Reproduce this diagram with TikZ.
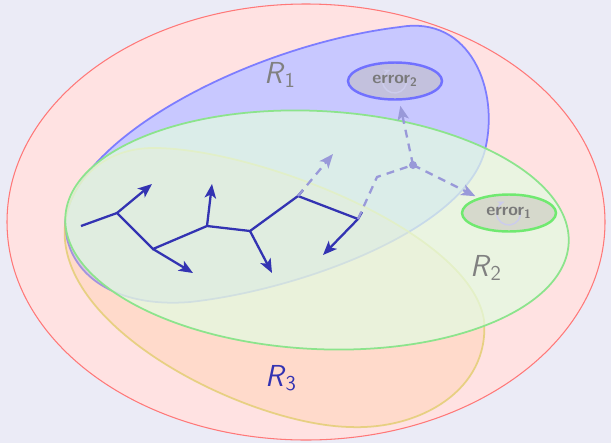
\documentclass[tikz,border=0pt]{standalone}
\usetikzlibrary{arrows.meta,shapes.geometric}

\definecolor{bgcol}{RGB}{235,235,246}
\definecolor{struct}{RGB}{51,51,178}
\definecolor{outerfill}{RGB}{255,226,226}
\definecolor{outerline}{RGB}{255,120,120}
\definecolor{onefill}{RGB}{200,200,255}
\definecolor{oneline}{RGB}{125,125,255}
\definecolor{twofill}{RGB}{227,252,225}
\definecolor{twoline}{RGB}{140,228,140}
\definecolor{threefill}{RGB}{255,200,150}
\definecolor{threeline}{RGB}{225,205,110}
\definecolor{errfill}{RGB}{190,185,180}

\newcommand{\reglabel}[1]{\textit{R}\textsubscript{#1}}

\begin{document}
\begin{tikzpicture}[x=0.02cm,y=-0.02cm,
  font=\sffamily,
  branch/.style={draw=struct, line width=1.3pt},
  twig/.style={branch, -{Stealth[length=8pt,width=6.5pt,inset=2pt]}},
  probe/.style={draw=struct!50, line width=1.3pt, dash pattern=on 4.5pt off 3.5pt,
    -{Stealth[length=8pt,width=6.5pt,inset=2pt]}},
  errbox/.style={ellipse, minimum width=1.88cm, minimum height=0.74cm, line width=1.4pt,
    fill=errfill, fill opacity=0.45},
  errtext/.style={text=gray!95!black, font=\sffamily\bfseries},
  loopmark/.style={draw=struct!25, line width=0.8pt, -{Stealth[length=4pt]}},
  reg/.style={font=\sffamily\LARGE}
]

% background and margins
\fill[bgcol] (0,0) rectangle (611,443);
\useasboundingbox (0,0) rectangle (611,443);

% the four regions
\draw[fill=outerfill, draw=outerline, line width=0.6pt] (306,222) ellipse [x radius=299, y radius=218];
\draw[fill=onefill, draw=oneline, line width=1pt]
  (65,225) .. controls (70,140) and (250,45) .. (400,27)
  .. controls (470,15) and (500,90) .. (485,150)
  .. controls (465,230) and (300,290) .. (190,302)
  .. controls (115,308) and (68,275) .. cycle;
\draw[fill=threefill, fill opacity=0.3, draw=threeline, draw opacity=0.8, line width=1pt]
  (65,225) .. controls (68,190) and (95,150) .. (150,148)
  .. controls (250,146) and (470,230) .. (484,320)
  .. controls (490,390) and (420,430) .. (350,427)
  .. controls (250,425) and (55,330) .. cycle;
\draw[rotate around={-3:(317,230)}, fill=twofill, fill opacity=0.73, draw=twoline, line width=1pt]
  (317,230) ellipse [x radius=252, y radius=119];

% region labels
\node[reg, text=gray] (r1) at (280,75) {\reglabel{1}};
\node[reg, text=gray] (r2) at (486,268) {\reglabel{2}};
\node[reg, text=struct] (r3) at (281,378) {\reglabel{3}};

% error states
\node[errbox, draw=oneline!90!blue] (err2) at (395,81) {};
\draw[loopmark] (err2.center) ++(10,-6) arc[start angle=-30, end angle=250, radius=12];
\node[errtext] (e2) at (err2.center) {error\textsubscript{2}};
\node[errbox, draw=twoline!80!green] (err1) at (509,213) {};
\draw[loopmark] (err1.center) ++(10,-6) arc[start angle=-30, end angle=250, radius=12];
\node[errtext] (e1) at (err1.center) {error\textsubscript{1}};

% tree
\coordinate (t0) at (81,226);
\coordinate (t1) at (117,213);
\coordinate (t2) at (153,249);
\coordinate (t3) at (207,226);
\coordinate (t4) at (250,231);
\coordinate (t5) at (298,196);
\coordinate (t6) at (358,219);
\coordinate (a1) at (152,184);
\coordinate (a2) at (193,273);
\coordinate (a3) at (212,184);
\coordinate (a4) at (272,273);
\coordinate (a6) at (323,255);
\coordinate (s5) at (303,190);
\coordinate (s6) at (362,212);
\coordinate (d5) at (333,154);
\coordinate (bend) at (377,177);
\coordinate (hub) at (413,165);

\draw[branch] (t0) -- (t1) -- (t2) -- (t3) -- (t4) -- (t5) -- (t6);
\draw[branch] (t5) -- (s5);
\draw[branch] (t6) -- (s6);
\draw[twig] (t1) -- (a1);
\draw[twig] (t2) -- (a2);
\draw[twig] (t3) -- (a3);
\draw[twig] (t4) -- (a4);
\draw[twig] (t6) -- (a6);

% dashed continuations
\draw[probe] (t5) -- (d5);
\draw[probe, -] (t6) -- (bend) -- (hub);
\fill[struct!50] (hub) circle [radius=4];
\draw[probe, shorten >=3pt] (hub) -- (err2);
\draw[probe, shorten >=2pt] (hub) -- (err1);

\end{tikzpicture}
\end{document}
